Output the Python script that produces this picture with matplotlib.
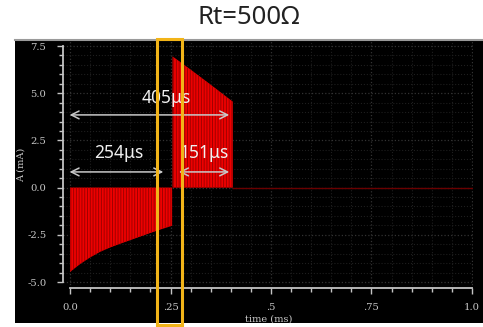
import matplotlib
matplotlib.use("Agg")
import matplotlib.pyplot as plt
from matplotlib.patches import Rectangle
import numpy as np

# ---- data ----
neg_t = [0.0, 0.025, 0.05, 0.075, 0.1, 0.125, 0.15, 0.175, 0.2, 0.225, 0.254]
neg_a = [-4.47, -4.05, -3.7, -3.4, -3.17, -2.97, -2.78, -2.59, -2.4, -2.22, -2.02]
pos_t = [0.255, 0.3, 0.35, 0.405]
pos_a = [6.95, 6.25, 5.45, 4.55]
rest_t = [0.405, 1.0]
rest_a = [0.0, 0.0]

x_ticks = [0.0, 0.25, 0.5, 0.75, 1.0]
x_labels = ["0.0", ".25", ".5", ".75", "1.0"]
y_ticks = [-5.0, -2.5, 0.0, 2.5, 5.0, 7.5]
y_labels = ["-5.0", "-2.5", "0.0", "2.5", "5.0", "7.5"]

spans = [("405μs", 0.239, 4.72, -0.008, 0.403, 3.85),
         ("254μs", 0.122, 1.83, -0.008, 0.239, 0.83),
         ("151μs", 0.333, 1.83, 0.264, 0.403, 0.83)]

title = "Rt=500Ω"

W, H = 483, 327
plt.rcParams['hatch.linewidth'] = 0.7
fig = plt.figure(figsize=(W / 100, H / 100), dpi=100, facecolor="white")

def fx(px):
    return px / W

def fy(py):
    return (H - py) / H

# black panel
bg = fig.add_axes([fx(15), fy(323), fx(483 - 15), (323 - 40) / H])
bg.set_facecolor("black")
bg.set_xticks([]); bg.set_yticks([])
for s in ["left", "right", "bottom"]:
    bg.spines[s].set_visible(False)
bg.spines["top"].set_color("#9a9a9a")
bg.spines["top"].set_linewidth(1.5)

# main axes
ax = fig.add_axes([fx(63), fy(288), fx(473 - 63), (288 - 41) / H])
ax.set_facecolor("none")
ax.set_xlim((63 - 70) / 402, (473 - 70) / 402)
ypp = 18.88
ax.set_ylim(-5 - (288 - 282) / ypp, 7.5 + (46 - 41) / ypp)

tick_col = "#c4c4c4"
for s in ["top", "right"]:
    ax.spines[s].set_visible(False)
for s in ["left", "bottom"]:
    ax.spines[s].set_color(tick_col)
    ax.spines[s].set_linewidth(1.3)
ax.spines["left"].set_bounds(-5, 7.5)
ax.spines["bottom"].set_bounds(0, 1.0)

ax.set_xticks(x_ticks)
ax.set_xticklabels(x_labels)
ax.set_yticks(y_ticks)
ax.set_yticklabels(y_labels)
ax.set_xticks(np.arange(0, 1.0001, 0.05), minor=True)
ax.set_yticks(np.arange(-5, 7.5001, 0.5), minor=True)
ax.tick_params(axis="both", which="both", direction="out", colors=tick_col,
               width=1.0)
ax.tick_params(axis="both", which="major", length=4)
ax.tick_params(axis="both", which="minor", length=3)
ax.tick_params(axis="x", which="major", pad=7)
ax.tick_params(axis="y", which="major", pad=8)
for lab in ax.get_xticklabels() + ax.get_yticklabels():
    lab.set_fontfamily("DejaVu Serif")
    lab.set_fontsize(7.2)
    lab.set_color("#c8c8c8")

ax.grid(which="minor", color="#1e1e1e", linestyle=":", linewidth=0.8)
ax.grid(which="major", color="#333333", linestyle=":", linewidth=0.9)
ax.set_axisbelow(True)

# signal: solid red body plus darker striation overlay
for tt, aa in [(neg_t, neg_a), (pos_t, pos_a)]:
    ax.fill_between(tt, aa, 0, facecolor="#ee0000", edgecolor="none",
                    linewidth=0, zorder=3)
    ax.fill_between(tt, aa, 0, facecolor="none", edgecolor="#a00000",
                    hatch="|" * 6, linewidth=0, zorder=3.5)
ax.plot(rest_t, rest_a, color="#6a0000", lw=1.0, zorder=3)

# span arrows and labels
for txt, tx, ty, x0, x1, ay in spans:
    ax.annotate("", xy=(x0, ay), xytext=(x1, ay),
                arrowprops=dict(arrowstyle="<->", color="#c8c8c8", lw=1.1,
                                mutation_scale=14), zorder=5)
    ax.text(tx, ty, txt, color="#f0f0f0", fontsize=12.5, ha="center",
            va="center", family=["Noto Sans", "DejaVu Sans"], zorder=6)

# axis labels
fig.text(fx(21), fy(165), "A (mA)", rotation=90, ha="center", va="center",
         fontsize=7, color="#c8c8c8", family="DejaVu Serif")
fig.text(fx(269), fy(319), "time (ms)", ha="center", va="center",
         fontsize=7, color="#c8c8c8", family="DejaVu Serif")

# title
fig.text(fx(249), fy(17), title, ha="center", va="center", fontsize=18.5,
         color="#222222", family=["Noto Sans", "DejaVu Sans"])

# highlight box
fig.patches.append(Rectangle((fx(157), fy(325)), fx(182 - 157), (325 - 39) / H,
                             transform=fig.transFigure, fill=False,
                             edgecolor="#f2b418", linewidth=2.2, zorder=10))

fig.savefig("out.png", dpi=100, facecolor="white")
